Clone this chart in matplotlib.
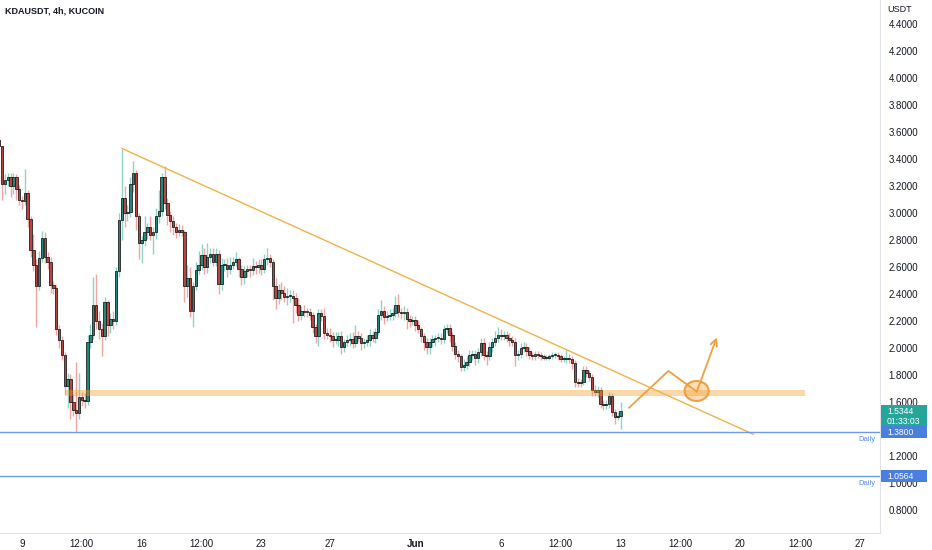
"""
KDAUSDT 4h candles with a descending trendline and a breakout idea
"""

import numpy as np
import matplotlib
matplotlib.use('Agg')
import matplotlib.pyplot as plt
from matplotlib.patches import Ellipse, Rectangle
from matplotlib.transforms import blended_transform_factory

TITLE = 'KDAUSDT, 4h, KUCOIN'

# 4h closes (open = previous close)
first_open = 3.54
closes = [
    3.50, 3.22, 3.25, 3.27, 3.20, 3.27, 3.18, 3.10, 3.09, 3.15,
    2.96, 2.73, 2.62, 2.46, 2.67, 2.82, 2.68, 2.64, 2.47, 2.45,
    2.14, 2.06, 1.95, 1.72, 1.77, 1.60, 1.54, 1.52, 1.64, 1.62,
    1.61, 2.05, 2.10, 2.32, 2.20, 2.14, 2.09, 2.34, 2.17, 2.22,
    2.20, 2.57, 2.95, 3.11, 3.00, 3.01, 3.22, 3.30, 2.98, 2.78,
    2.80, 2.86, 2.90, 2.84, 2.86, 2.98, 3.02, 3.27, 3.08, 2.99,
    2.94, 2.90, 2.86, 2.88, 2.86, 2.46, 2.52, 2.28, 2.46, 2.58,
    2.62, 2.69, 2.60, 2.68, 2.70, 2.64, 2.70, 2.48, 2.62, 2.62,
    2.59, 2.62, 2.64, 2.66, 2.59, 2.53, 2.57, 2.59, 2.58, 2.61,
    2.60, 2.62, 2.59, 2.66, 2.67, 2.64, 2.46, 2.37, 2.43, 2.41,
    2.38, 2.39, 2.39, 2.37, 2.32, 2.25, 2.28, 2.27, 2.27, 2.25,
    2.16, 2.09, 2.26, 2.24, 2.11, 2.10, 2.09, 2.06, 2.06, 2.09,
    2.01, 2.05, 2.06, 2.07, 2.04, 2.09, 2.08, 2.04, 2.05, 2.06,
    2.10, 2.08, 2.12, 2.25, 2.28, 2.23, 2.24, 2.25, 2.26, 2.32,
    2.27, 2.26, 2.27, 2.22, 2.20, 2.21, 2.17, 2.14, 2.09, 2.05,
    2.01, 2.05, 2.07, 2.08, 2.08, 2.07, 2.14, 2.15, 2.10, 2.02,
    1.96, 1.94, 1.86, 1.88, 1.90, 1.95, 1.96, 1.93, 1.97, 2.04,
    1.95, 1.94, 2.01, 2.05, 2.08, 2.10, 2.09, 2.10, 2.08, 2.06,
    2.05, 1.95, 1.96, 2.00, 2.01, 1.98, 1.95, 1.94, 1.96, 1.95,
    1.94, 1.93, 1.93, 1.94, 1.95, 1.95, 1.94, 1.92, 1.92, 1.93,
    1.92, 1.89, 1.75, 1.74, 1.75, 1.84, 1.82, 1.79, 1.69, 1.68,
    1.69, 1.59, 1.58, 1.59, 1.65, 1.53, 1.49, 1.50, 1.5344,
]
# wick length above / below the body
wick_up = [
    0.03, 0.00, 0.04, 0.03, 0.03, 0.03, 0.02, 0.03, 0.03, 0.18,
    0.02, 0.02, 0.12, 0.04, 0.05, 0.05, 0.04, 0.03, 0.04, 0.03,
    0.02, 0.03, 0.03, 0.02, 0.05, 0.04, 0.06, 0.36, 0.18, 0.04,
    0.05, 0.05, 0.08, 0.21, 0.23, 0.08, 0.05, 0.04, 0.02, 0.04,
    0.06, 0.03, 0.05, 0.37, 0.09, 0.05, 0.05, 0.09, 0.02, 0.02,
    0.03, 0.12, 0.03, 0.08, 0.04, 0.06, 0.15, 0.03, 0.08, 0.03,
    0.03, 0.04, 0.03, 0.04, 0.03, 0.02, 0.10, 0.08, 0.03, 0.06,
    0.10, 0.08, 0.05, 0.10, 0.04, 0.04, 0.04, 0.03, 0.05, 0.04,
    0.05, 0.06, 0.04, 0.05, 0.02, 0.03, 0.04, 0.03, 0.03, 0.06,
    0.04, 0.04, 0.04, 0.04, 0.07, 0.03, 0.02, 0.06, 0.05, 0.06,
    0.05, 0.06, 0.04, 0.04, 0.04, 0.05, 0.03, 0.04, 0.03, 0.03,
    0.02, 0.02, 0.03, 0.03, 0.06, 0.04, 0.05, 0.03, 0.06, 0.03,
    0.04, 0.02, 0.04, 0.04, 0.05, 0.08, 0.04, 0.03, 0.03, 0.04,
    0.04, 0.03, 0.03, 0.04, 0.08, 0.03, 0.04, 0.04, 0.04, 0.07,
    0.08, 0.03, 0.04, 0.03, 0.03, 0.03, 0.03, 0.04, 0.02, 0.02,
    0.03, 0.03, 0.03, 0.02, 0.03, 0.03, 0.03, 0.03, 0.03, 0.02,
    0.03, 0.03, 0.02, 0.04, 0.04, 0.04, 0.03, 0.03, 0.03, 0.04,
    0.04, 0.03, 0.04, 0.03, 0.05, 0.06, 0.04, 0.03, 0.03, 0.03,
    0.03, 0.03, 0.03, 0.04, 0.04, 0.03, 0.03, 0.02, 0.02, 0.02,
    0.02, 0.02, 0.02, 0.02, 0.02, 0.02, 0.02, 0.02, 0.02, 0.06,
    0.03, 0.02, 0.02, 0.03, 0.02, 0.03, 0.03, 0.02, 0.02, 0.04,
    0.03, 0.02, 0.03, 0.03, 0.03, 0.02, 0.02, 0.03, 0.07,
]
wick_dn = [
    0.03, 0.12, 0.08, 0.05, 0.08, 0.06, 0.08, 0.04, 0.06, 0.03,
    0.06, 0.05, 0.05, 0.30, 0.03, 0.03, 0.05, 0.05, 0.06, 0.05,
    0.04, 0.06, 0.04, 0.06, 0.16, 0.12, 0.04, 0.14, 0.04, 0.05,
    0.05, 0.03, 0.05, 0.03, 0.06, 0.07, 0.15, 0.03, 0.08, 0.06,
    0.06, 0.03, 0.04, 0.15, 0.10, 0.06, 0.04, 0.06, 0.10, 0.12,
    0.15, 0.04, 0.05, 0.04, 0.14, 0.05, 0.05, 0.04, 0.05, 0.08,
    0.08, 0.06, 0.04, 0.03, 0.03, 0.12, 0.08, 0.05, 0.12, 0.03,
    0.03, 0.04, 0.05, 0.04, 0.05, 0.03, 0.03, 0.08, 0.05, 0.05,
    0.06, 0.04, 0.03, 0.03, 0.06, 0.06, 0.05, 0.04, 0.05, 0.04,
    0.05, 0.04, 0.05, 0.03, 0.04, 0.04, 0.10, 0.08, 0.04, 0.05,
    0.04, 0.06, 0.05, 0.18, 0.06, 0.05, 0.04, 0.04, 0.04, 0.04,
    0.05, 0.05, 0.07, 0.04, 0.04, 0.03, 0.04, 0.05, 0.03, 0.04,
    0.05, 0.04, 0.03, 0.04, 0.04, 0.03, 0.03, 0.05, 0.04, 0.03,
    0.04, 0.03, 0.04, 0.02, 0.04, 0.05, 0.03, 0.03, 0.04, 0.03,
    0.04, 0.04, 0.05, 0.08, 0.04, 0.03, 0.04, 0.03, 0.04, 0.06,
    0.05, 0.05, 0.04, 0.05, 0.03, 0.04, 0.03, 0.03, 0.05, 0.04,
    0.04, 0.04, 0.03, 0.03, 0.03, 0.03, 0.04, 0.05, 0.04, 0.03,
    0.04, 0.06, 0.03, 0.04, 0.03, 0.03, 0.03, 0.03, 0.03, 0.04,
    0.03, 0.08, 0.04, 0.03, 0.03, 0.04, 0.03, 0.03, 0.03, 0.02,
    0.03, 0.02, 0.02, 0.02, 0.02, 0.02, 0.03, 0.02, 0.02, 0.03,
    0.03, 0.04, 0.04, 0.03, 0.03, 0.02, 0.03, 0.03, 0.04, 0.03,
    0.04, 0.03, 0.04, 0.03, 0.03, 0.03, 0.05, 0.02, 0.10,
]

# time axis in days from May 9 00:00; last candle opens Jun 13 00:00
last_day = 35.0
tick_days = [0, 3.5, 7, 10.5, 14, 18, 23, 28, 31.5, 35, 38.5, 42, 45.5, 49]
tick_labels = ['9', '12:00', '16', '12:00', '23', '27', 'Jun', '6',
               '12:00', '13', '12:00', '20', '12:00', '27']
price_ticks = [0.8, 1.0, 1.2, 1.4, 1.6, 1.8, 2.0, 2.2, 2.4, 2.6, 2.8,
               3.0, 3.2, 3.4, 3.6, 3.8, 4.0, 4.2, 4.4]
hidden_tick = 1.4  # covered by the price boxes

# drawings
support_levels = [1.3800, 1.0564]
zone_days = [2.5, 45.8]
zone_prices = [1.645, 1.69]
trend_days = [5.85, 42.77]
trend_prices = [3.48, 1.363]
path_days = [35.5, 37.8, 39.46, 40.63]
path_prices = [1.56, 1.832, 1.679, 2.081]
circle_day = 39.45
circle_price = 1.684
last_price = 1.5344
countdown = '01:33:03'

TEXT = '#131722'
UP_BODY, DOWN_BODY = '#25867a', '#b8463f'
UP_WICK, DOWN_WICK = '#8fd3c5', '#f2a5a5'
ORANGE = '#f0a040'
BLUE_LINE = '#6f9be8'
BLUE_BOX = '#4a7fe0'
TEAL_BOX = '#26a69a'


def main():
    """Draw the chart"""
    plt.rcParams['font.family'] = ['Liberation Sans', 'DejaVu Sans']

    fig = plt.figure(figsize=(9.32, 5.5), dpi=100)
    ax = fig.add_axes([0, 17 / 550, 880 / 932, 533 / 550])

    # Candles
    n = len(closes)
    days = last_day - (n - 1 - np.arange(n)) / 6
    c = np.array(closes)
    o = np.array([first_open] + closes[:-1])
    top = np.maximum(o, c)
    bot = np.minimum(o, c)
    highs = top + np.array(wick_up)
    lows = bot - np.array(wick_dn)
    up = c >= o

    ax.vlines(days, lows, highs, colors=np.where(up, UP_WICK, DOWN_WICK),
              linewidth=1.0, zorder=2)
    ax.bar(days, np.maximum(top - bot, 0.006), 0.145, bottom=bot,
           color=np.where(up, UP_BODY, DOWN_BODY), edgecolor='#141414',
           linewidth=0.55, zorder=3)

    # Support zone, trendline, idea path
    ax.fill_between(zone_days, zone_prices[0], zone_prices[1],
                    color='#f59b2a', alpha=0.4, linewidth=0, zorder=4)
    ax.plot(trend_days, trend_prices, color='#f3b04a', linewidth=1, zorder=4)
    ax.plot(path_days[:-1], path_prices[:-1], color=ORANGE, linewidth=1.3,
            zorder=5)
    ax.annotate('', xy=(path_days[-1], path_prices[-1]),
                xytext=(path_days[-2], path_prices[-2]),
                arrowprops=dict(arrowstyle='->', color=ORANGE, lw=1.3,
                                mutation_scale=12, shrinkA=0, shrinkB=0),
                zorder=5)
    ax.add_patch(Ellipse((circle_day, circle_price), 1.4, 0.148,
                         facecolor='#f59b2a', alpha=0.35, zorder=5))
    ax.add_patch(Ellipse((circle_day, circle_price), 1.4, 0.148,
                         facecolor='none', edgecolor=ORANGE, linewidth=1.5,
                         zorder=5))

    # Daily levels
    trans = blended_transform_factory(ax.transAxes, ax.transData)
    for level in support_levels:
        ax.axhline(level, color=BLUE_LINE, linewidth=1, zorder=4)
        ax.annotate('Daily', xy=(0.995, level), xycoords=trans,
                    xytext=(0, -3), textcoords='offset points',
                    ha='right', va='top', fontsize=5.5, color='#5b8def')

    # Axes look
    ax.set_xlim(-1.287, 50.175)
    ax.set_ylim(0.632, 4.580)
    ax.set_xticks(tick_days)
    ax.set_xticklabels(tick_labels)
    ax.get_xticklabels()[6].set_fontweight('bold')
    ax.yaxis.tick_right()
    ax.set_yticks(price_ticks)
    ax.set_yticklabels(['' if p == hidden_tick else '%.4f' % p
                        for p in price_ticks])
    ax.tick_params(axis='both', length=0, labelsize=7, labelcolor=TEXT)
    ax.tick_params(axis='y', pad=6)
    ax.tick_params(axis='x', pad=4)
    for side in ['top', 'left']:
        ax.spines[side].set_visible(False)
    for side in ['right', 'bottom']:
        ax.spines[side].set_color('#e0e3eb')

    # Price scale boxes
    def price_box(y0, y1, color):
        ax.add_patch(Rectangle((1.001, y0), 0.0525, y1 - y0, transform=trans,
                               facecolor=color, edgecolor='none',
                               clip_on=False, zorder=6))

    price_box(1.428, 1.580, TEAL_BOX)
    ax.text(1.008, 1.530, '%.4f' % last_price, transform=trans,
            color='white', fontsize=6.2, va='center', zorder=7)
    ax.text(1.008, 1.457, countdown, transform=trans, color='white',
            fontsize=6.2, va='center', zorder=7)
    price_box(1.336, 1.428, BLUE_BOX)
    price_box(1.010, 1.101, BLUE_BOX)
    for level in support_levels:
        ax.text(1.008, level - 0.006, '%.4f' % level, transform=trans,
                color='white', fontsize=6.2, va='center', zorder=7)

    fig.text(5 / 932, 1 - 11 / 550, TITLE, fontsize=6.5, fontweight='bold',
             color=TEXT, va='center')
    fig.text(887 / 932, 1 - 10 / 550, 'USDT', fontsize=6.5, color=TEXT,
             va='center')

    fig.savefig('out.png', dpi=100)


if __name__ == '__main__':
    main()
